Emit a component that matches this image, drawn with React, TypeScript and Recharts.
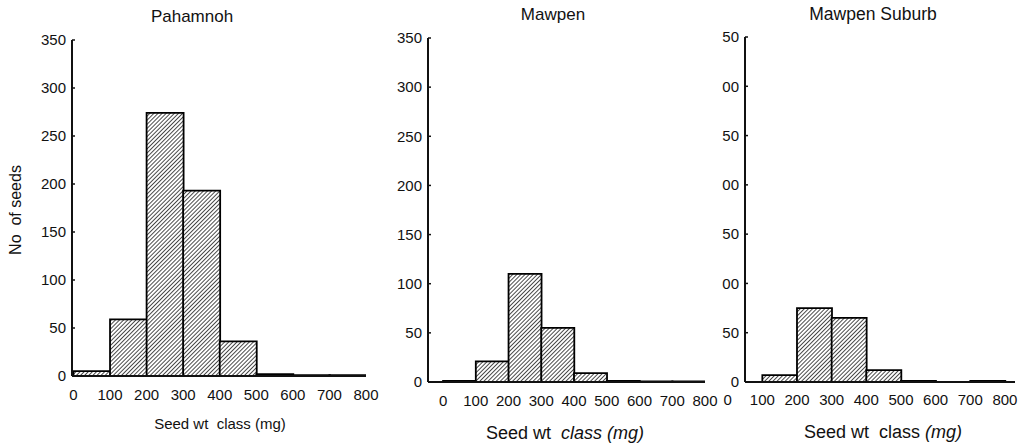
import { BarChart, Bar, XAxis, YAxis } from 'recharts';

// seed weight classes (mg), given by bin centre; each bin is 100 mg wide
const binMids = [50, 150, 250, 350, 450, 550, 650, 750];
const xTicks = [0, 100, 200, 300, 400, 500, 600, 700, 800];
const yTicks = [0, 50, 100, 150, 200, 250, 300, 350];

// number of seeds per weight class
const pahamnoh = [5, 59, 274, 193, 36, 2, 1, 1];
const mawpen = [1, 21, 110, 55, 9, 1, 0.5, 0.5];
const mawpenSuburb = [0, 7, 75, 65, 12, 1, 0, 1];

const font = 'Arial, "Liberation Sans", Helvetica, sans-serif';
const ink = '#111';

const toBins = (counts: number[]) => binMids.map((mid, i) => ({ mid, count: counts[i] }));

type PanelProps = {
  id: string;
  counts: number[];
  width: number;
  top: number;
  bottom: number;
  yAxisWidth: number;
  right: number;
  xDomain: [number, number];
  tickGap: number;
  yFormat?: (v: number) => string;
};

function Panel({ id, counts, width, top, bottom, yAxisWidth, right, xDomain, tickGap, yFormat }: PanelProps) {
  const tickStyle = { fill: ink, fontSize: 15, fontFamily: font };
  return (
    <BarChart
      width={width}
      height={443}
      data={toBins(counts)}
      margin={{ top, right, bottom: 0, left: 0 }}
      barCategoryGap={0}
      barGap={0}
    >
      <defs>
        <pattern id={id} width="2.9" height="2.9" patternUnits="userSpaceOnUse" patternTransform="rotate(45)">
          <rect width="2.9" height="2.9" fill="#fff" />
          <line x1="0" y1="0" x2="0" y2="2.9" stroke="#111" strokeWidth="1.5" />
        </pattern>
      </defs>
      <XAxis
        type="number"
        dataKey="mid"
        domain={xDomain}
        ticks={xTicks}
        allowDataOverflow
        interval={0}
        height={443 - bottom}
        tickSize={0}
        tickMargin={tickGap}
        axisLine={{ stroke: ink, strokeWidth: 2 }}
        tick={tickStyle}
      />
      <YAxis
        domain={[0, 350]}
        ticks={yTicks}
        width={yAxisWidth}
        tickSize={-3}
        tickMargin={9}
        tickFormatter={yFormat}
        axisLine={{ stroke: ink, strokeWidth: 2 }}
        tickLine={{ stroke: ink, strokeWidth: 1.5 }}
        tick={tickStyle}
      />
      <Bar dataKey="count" fill={`url(#${id})`} stroke="#000" strokeWidth={1.8} isAnimationActive={false} />
    </BarChart>
  );
}

// the third panel sits tight against the second, so its axis keeps only the last two digits
const lastTwoDigits = (v: number) => String(v).slice(-2);

const text = (x: number, y: number, size: number): React.CSSProperties => ({
  position: 'absolute',
  left: x,
  top: y,
  transform: 'translate(-50%, -50%)',
  fontSize: size,
  fontFamily: font,
  color: ink,
  whiteSpace: 'pre',
});

export default function App() {
  return (
    <div style={{ position: 'absolute', left: 0, top: 0, width: 1021, height: 443, background: '#fff', overflow: 'hidden' }}>
      <div style={{ position: 'absolute', left: 0, top: 0 }}>
        <Panel id="hatchA" counts={pahamnoh} width={380} top={40} bottom={376} yAxisWidth={72} right={14}
          xDomain={[-4, 800]} tickGap={13} />
      </div>
      <div style={{ position: 'absolute', left: 360, top: 0 }}>
        <Panel id="hatchB" counts={mawpen} width={372} top={38} bottom={382} yAxisWidth={68} right={27}
          xDomain={[-46, 800]} tickGap={13} />
      </div>
      <div style={{ position: 'absolute', left: 690, top: 0 }}>
        <Panel id="hatchC" counts={mawpenSuburb} width={331} top={37} bottom={382} yAxisWidth={55} right={6}
          xDomain={[50, 829]} tickGap={12} yFormat={lastTwoDigits} />
      </div>

      <div style={text(192, 17, 17)}>Pahamnoh</div>
      <div style={text(553, 15, 17)}>Mawpen</div>
      <div style={text(873, 14, 17.5)}>Mawpen Suburb</div>

      <div style={{ ...text(16, 210, 16), transform: 'translate(-50%, -50%) rotate(-90deg)' }}>No  of seeds</div>

      <div style={text(220, 423, 15)}>Seed wt  class (mg)</div>
      <div style={text(565, 433, 18)}>Seed wt  <i>class (mg)</i></div>
      <div style={text(883, 432, 18)}>Seed wt  class <i>(mg)</i></div>
    </div>
  );
}
